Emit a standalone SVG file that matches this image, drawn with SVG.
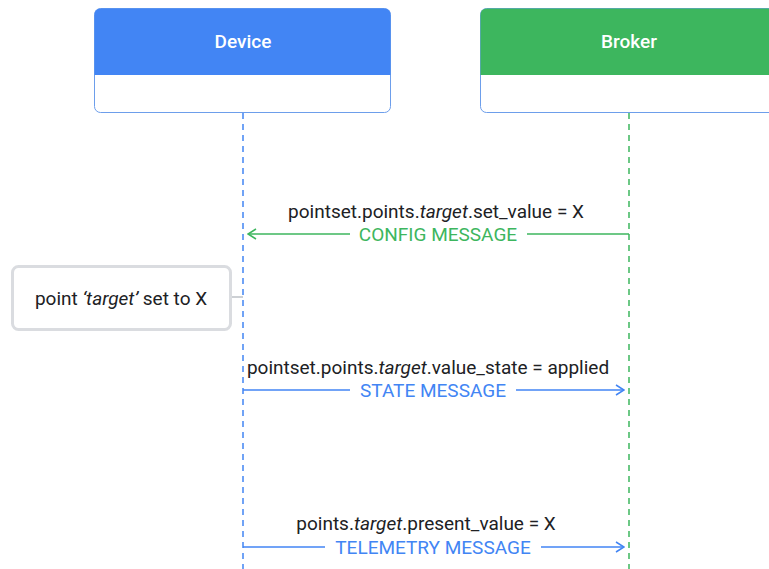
<svg xmlns="http://www.w3.org/2000/svg" width="769" height="569" viewBox="0 0 769 569">
  <style>
    .hdr { font-family: Roboto, "Liberation Sans", sans-serif; font-size: 19px; font-weight: 500; fill: #ffffff; text-anchor: middle; }
    .txt { font-family: Roboto, "Liberation Sans", sans-serif; font-size: 19px; fill: #202124; text-anchor: middle; }
    .lbl { font-family: Roboto, "Liberation Sans", sans-serif; font-size: 19px; text-anchor: middle; }
    .blue { fill: #4285f4; }
    .green { fill: #3db65e; }
    .bline { stroke: #4285f4; stroke-width: 1.5; fill: none; }
    .gline { stroke: #3db65e; stroke-width: 1.5; fill: none; }
  </style>
  <defs>
    <marker id="headBlue" viewBox="0 0 10 12" refX="9" refY="6" markerWidth="10" markerHeight="12" markerUnits="userSpaceOnUse" orient="auto">
      <path d="M1,1 L9,6 L1,11" fill="none" stroke="#4285f4" stroke-width="1.5"/>
    </marker>
    <marker id="headGreen" viewBox="0 0 10 12" refX="9" refY="6" markerWidth="10" markerHeight="12" markerUnits="userSpaceOnUse" orient="auto">
      <path d="M1,1 L9,6 L1,11" fill="none" stroke="#3db65e" stroke-width="1.5"/>
    </marker>
  </defs>
  <rect width="769" height="569" fill="#ffffff"/>

  <!-- lifelines -->
  <g id="lifelines">
    <line x1="243" y1="113" x2="243" y2="569" stroke="#4285f4" stroke-width="1.5" stroke-dasharray="6,5"/>
    <line x1="629" y1="113" x2="629" y2="569" stroke="#3db65e" stroke-width="1.5" stroke-dasharray="6,5"/>
  </g>

  <g id="device">
    <rect x="94.5" y="8.5" width="296" height="104" rx="6" fill="#ffffff" stroke="#6d9eeb" stroke-width="1"/>
    <path d="M94.5,75 V14.5 a6,6 0 0 1 6,-6 H384.5 a6,6 0 0 1 6,6 V75 Z" fill="#4285f4"/>
    <text class="hdr" x="243" y="48">Device</text>
  </g>

  <g id="broker">
    <rect x="480.5" y="8.5" width="300" height="104" rx="6" fill="#ffffff" stroke="#6d9eeb" stroke-width="1"/>
    <path d="M480.5,75 V14.5 a6,6 0 0 1 6,-6 H780 V75 Z" fill="#3db65e"/>
    <text class="hdr" x="629" y="48">Broker</text>
  </g>

  <g id="note">
    <rect x="12.5" y="266.5" width="218" height="63" rx="6" fill="#ffffff" stroke="#dadce0" stroke-width="3"/>
    <text class="txt" x="121" y="305">point <tspan font-style="italic">‘target’</tspan> set to X</text>
  </g>

  <g id="connectors">
    <!-- note attachment -->
    <line x1="232" y1="297" x2="243" y2="297" stroke="#bdc1c6" stroke-width="1.5"/>

    <!-- config: broker to device -->
    <line class="gline" x1="629" y1="234" x2="527" y2="234"/>
    <line class="gline" x1="350" y1="234" x2="248" y2="234" marker-end="url(#headGreen)"/>
    <text class="txt" x="436" y="218">pointset.points.<tspan font-style="italic">target</tspan>.set_value = X</text>
    <text class="lbl green" x="438" y="241">CONFIG MESSAGE</text>

    <!-- state: device to broker -->
    <line class="bline" x1="243" y1="390" x2="350" y2="390"/>
    <line class="bline" x1="516" y1="390" x2="624" y2="390" marker-end="url(#headBlue)"/>
    <text class="txt" x="428" y="374">pointset.points.<tspan font-style="italic">target</tspan>.value_state = applied</text>
    <text class="lbl blue" x="433" y="397">STATE MESSAGE</text>

    <!-- telemetry: device to broker -->
    <line class="bline" x1="243" y1="547" x2="325" y2="547"/>
    <line class="bline" x1="541" y1="547" x2="624" y2="547" marker-end="url(#headBlue)"/>
    <text class="txt" x="426" y="530">points.<tspan font-style="italic">target</tspan>.present_value = X</text>
    <text class="lbl blue" x="433" y="554">TELEMETRY MESSAGE</text>
  </g>
</svg>
